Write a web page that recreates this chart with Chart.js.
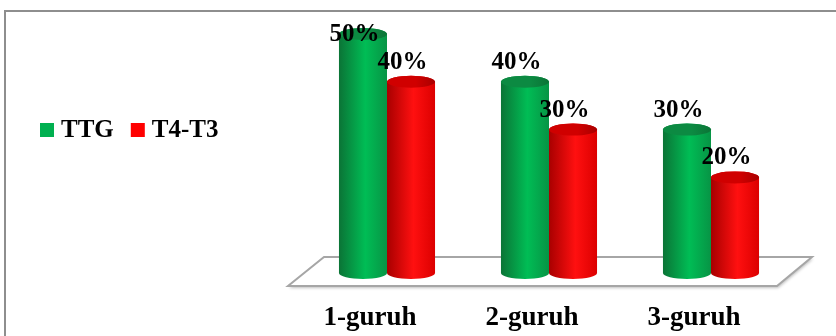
<!DOCTYPE html>
<html>
<head>
<meta charset="utf-8">
<script src="https://cdn.jsdelivr.net/npm/chart.js@4/dist/chart.umd.min.js"></script>
<style>
  html, body { margin: 0; padding: 0; background: #ffffff; }
  #wrap { width: 836px; height: 336px; position: relative; }
</style>
</head>
<body>
<div id="wrap"><canvas id="c" width="836" height="336"></canvas></div>
<script>
// Groups along the x axis
const categories = ['1-guruh', '2-guruh', '3-guruh'];
// Series values, in percent
const ttgValues = [50, 40, 30];
const t4t3Values = [40, 30, 20];
const seriesNames = ['TTG', 'T4-T3'];
const seriesColors = ['#00b050', '#ff0000'];

const FONT = '"Liberation Serif", "Times New Roman", serif';

// Shading for each cylinder: [left edge, highlight, right edge, lid]
const shades = {
  '#00b050': ['#0b7436', '#00bd55', '#079445', '#0c8a42'],
  '#ff0000': ['#a80000', '#ff1010', '#dc0000', '#d00000']
};

function drawCylinder(ctx, x, top, base, w, color) {
  const rx = w / 2, ry = 6, l = x - rx, r = x + rx;
  const s = shades[color];
  const g = ctx.createLinearGradient(l, 0, r, 0);
  g.addColorStop(0, s[0]);
  g.addColorStop(0.55, s[1]);
  g.addColorStop(1, s[2]);
  ctx.beginPath();
  ctx.moveTo(l, top);
  ctx.lineTo(l, base);
  ctx.ellipse(x, base, rx, ry, 0, Math.PI, 0, true);
  ctx.lineTo(r, top);
  ctx.ellipse(x, top, rx, ry, 0, 0, Math.PI, true);
  ctx.closePath();
  ctx.fillStyle = g;
  ctx.fill();
  // lid
  const lg = ctx.createLinearGradient(l, 0, r, 0);
  lg.addColorStop(0, s[3]);
  lg.addColorStop(0.6, s[3]);
  lg.addColorStop(1, s[0]);
  ctx.beginPath();
  ctx.ellipse(x, top, rx, ry, 0, 0, Math.PI * 2);
  ctx.fillStyle = lg;
  ctx.fill();
}

const framePlugin = {
  id: 'frame',
  beforeDraw(chart) {
    const ctx = chart.ctx;
    ctx.save();
    ctx.strokeStyle = '#8e8e8e';
    ctx.lineWidth = 2;
    ctx.beginPath();
    ctx.moveTo(5, chart.height);
    ctx.lineTo(5, 11);
    ctx.lineTo(chart.width, 11);
    ctx.stroke();
    ctx.restore();
  }
};

const floorPlugin = {
  id: 'floor',
  beforeDatasetsDraw(chart) {
    const { ctx, chartArea: a } = chart;
    ctx.save();
    ctx.beginPath();
    ctx.moveTo(a.left + 18, a.bottom - 16);
    ctx.lineTo(a.right + 20, a.bottom - 16);
    ctx.lineTo(a.right - 15, a.bottom + 13);
    ctx.lineTo(a.left - 18, a.bottom + 13);
    ctx.closePath();
    ctx.fillStyle = '#ffffff';
    ctx.shadowColor = 'rgba(0,0,0,0.25)';
    ctx.shadowBlur = 3;
    ctx.shadowOffsetX = 1;
    ctx.shadowOffsetY = 2;
    ctx.fill();
    ctx.shadowColor = 'transparent';
    ctx.strokeStyle = '#a6a6a6';
    ctx.lineWidth = 2;
    ctx.stroke();
    ctx.restore();
  }
};

const cylinderPlugin = {
  id: 'cylinders',
  beforeDatasetDraw() { return false; },
  afterDatasetsDraw(chart) {
    const ctx = chart.ctx;
    const a = chart.chartArea;
    ctx.save();
    chart.data.datasets.forEach((ds, i) => {
      chart.getDatasetMeta(i).data.forEach(bar => {
        drawCylinder(ctx, bar.x, bar.y, bar.base, bar.width, ds.backgroundColor);
      });
    });
    ctx.fillStyle = '#000000';
    ctx.font = 'bold 25px ' + FONT;
    ctx.textAlign = 'center';
    ctx.textBaseline = 'alphabetic';
    chart.data.datasets.forEach((ds, i) => {
      chart.getDatasetMeta(i).data.forEach((bar, j) => {
        const y = Math.max(bar.y - 13, a.top + 7);
        ctx.fillText(ds.data[j] + '%', bar.x - 8.5, y);
      });
    });
    ctx.restore();
  }
};

const legendPlugin = {
  id: 'sideLegend',
  afterDraw(chart) {
    const ctx = chart.ctx;
    ctx.save();
    ctx.font = 'bold 25px ' + FONT;
    ctx.textBaseline = 'alphabetic';
    ctx.textAlign = 'left';
    let x = 40;
    chart.data.datasets.forEach(ds => {
      ctx.fillStyle = ds.backgroundColor;
      ctx.fillRect(x, 123, 14, 14);
      ctx.fillStyle = '#000000';
      ctx.fillText(ds.label, x + 21, 137);
      x += 21 + ctx.measureText(ds.label).width + 17;
    });
    ctx.restore();
  }
};

new Chart(document.getElementById('c'), {
  type: 'bar',
  data: {
    labels: categories,
    datasets: [
      { label: seriesNames[0], data: ttgValues, backgroundColor: seriesColors[0] },
      { label: seriesNames[1], data: t4t3Values, backgroundColor: seriesColors[1] }
    ]
  },
  options: {
    responsive: false,
    animation: false,
    devicePixelRatio: 1,
    layout: { padding: { left: 306, right: 44, top: 34, bottom: 0 } },
    datasets: { bar: { categoryPercentage: 0.593, barPercentage: 1 } },
    scales: {
      x: {
        grid: { display: false, drawTicks: false },
        border: { display: false },
        ticks: {
          color: '#000000',
          font: { family: FONT, size: 27, weight: 'bold' },
          padding: 29,
          labelOffset: -17
        },
        afterFit(scale) { scale.height = 63; }
      },
      y: { display: false, min: 0, max: 50 }
    },
    plugins: { legend: { display: false }, tooltip: { enabled: false } }
  },
  plugins: [framePlugin, floorPlugin, cylinderPlugin, legendPlugin]
});
</script>
</body>
</html>
